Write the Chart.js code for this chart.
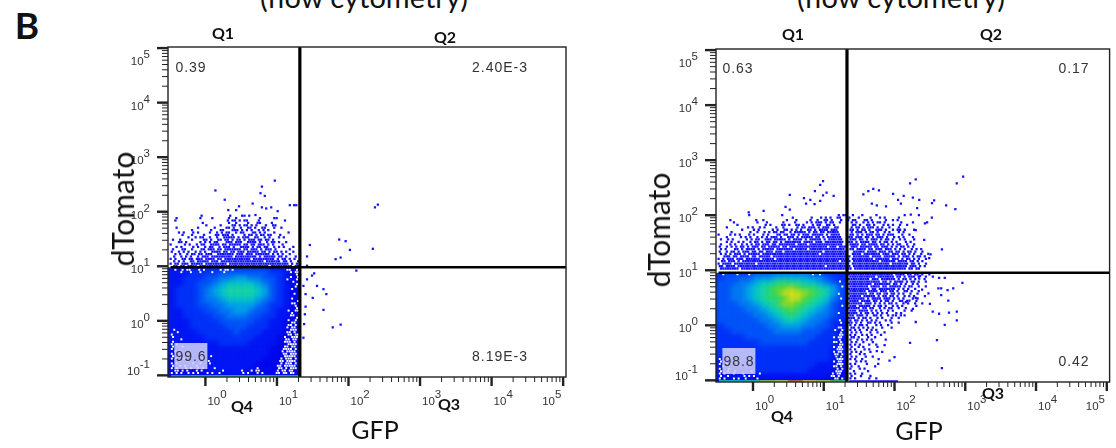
<!DOCTYPE html>
<html lang="en">
<head>
  <meta charset="UTF-8">
  <title>dTomato vs GFP flow cytometry</title>
  <script src="https://cdn.jsdelivr.net/npm/chart.js"></script>
  <style>
    html, body { margin: 0; background: #fff; width: 1116px; height: 448px; overflow: hidden; }
    canvas { position: absolute; top: 0; filter: blur(0.35px); }
    .lab { position: absolute; transform: translate(-50%, -50%); white-space: nowrap; font-family: Lato, sans-serif; color: #111; }
    .q { font-weight: 700; font-size: 16px; }
    .axis { font-size: 25px; }
    .rot { transform: translate(-50%, -50%) rotate(-90deg); font-size: 30px; }
    .title { font-size: 29px; }
    .gate { font-family: "Liberation Sans", sans-serif; font-size: 14px; color: #333; letter-spacing: 1px; }
    .tag { background: rgba(205, 205, 250, 0.88); padding: 5px 1px; }
  </style>
</head>
<body>
  <div class="lab" style="left:27px;top:24px;font-size:37px;font-weight:700">B</div>
  <div class="lab title" style="left:364px;top:-4px">(flow cytometry)</div>
  <div class="lab title" style="left:901px;top:-4px">(flow cytometry)</div>

  <canvas id="leftPlot" width="500" height="448" style="left:100px"></canvas>
  <canvas id="rightPlot" width="456" height="448" style="left:660px"></canvas>

  <div class="lab q" style="left:223px;top:32px">Q1</div>
  <div class="lab q" style="left:445px;top:36px">Q2</div>
  <div class="lab q" style="left:242px;top:405px">Q4</div>
  <div class="lab q" style="left:449px;top:403px">Q3</div>
  <div class="lab axis" style="left:375px;top:429px">GFP</div>
  <div class="lab rot" style="left:122px;top:209px">dTomato</div>
  <div class="lab gate" style="left:191px;top:67px">0.39</div>
  <div class="lab gate" style="left:500px;top:67px">2.40E-3</div>
  <div class="lab gate tag" style="left:191px;top:356px">99.6</div>
  <div class="lab gate" style="left:500px;top:356px">8.19E-3</div>

  <div class="lab q" style="left:793px;top:33px">Q1</div>
  <div class="lab q" style="left:991px;top:33px">Q2</div>
  <div class="lab q" style="left:782px;top:415px">Q4</div>
  <div class="lab q" style="left:993px;top:392px">Q3</div>
  <div class="lab axis" style="left:919px;top:430px">GFP</div>
  <div class="lab rot" style="left:658px;top:230px">dTomato</div>
  <div class="lab gate" style="left:738px;top:68px">0.63</div>
  <div class="lab gate" style="left:1074px;top:68px">0.17</div>
  <div class="lab gate tag" style="left:739px;top:361px">98.8</div>
  <div class="lab gate" style="left:1074px;top:361px">0.42</div>

  <script>
    // decades shown on both axes
    const xRange = [-0.486, 5.04];
    const yRange = [-1.03, 5.02];
    const xTickPowers = [0, 1, 2, 3, 4, 5];
    const yTickPowers = [-1, 0, 1, 2, 3, 4, 5];
    const leftGate = [20.9, 9.6];
    const rightGate = [21.3, 9.0];

    // density grid, read by eye. columns are log10 GFP, rows log10 dTomato, top row first
    const heatX = [-0.45, -0.35, -0.25, -0.15, -0.05, 0.05, 0.15, 0.25, 0.35, 0.45, 0.55, 0.65, 0.75, 0.85, 0.95, 1.05, 1.15, 1.25, 1.35];
    const heatY = [0.95, 0.85, 0.75, 0.65, 0.55, 0.45, 0.35, 0.25, 0.15, 0.05, -0.05, -0.15, -0.25, -0.35, -0.45, -0.55, -0.65, -0.75, -0.85, -0.95, -1.05];
    const leftHeat = [
      '1111122222222211100', '1112222333333322100', '1122233445544332100', '1122334566665432100',
      '1222345677776532100', '1222345677776532100', '1222344566665432100', '1222334455554322100',
      '1122233445543321100', '1122223344433221100', '1112222333332211000', '1112222233322211000',
      '1111222223222111000', '1111122222221110000', '1111111222211110000', '1111111111111100000',
      '0011111111111100000', '0011111111111000000', '0001111111110000000', '0000011111100000000',
      '0000000000000000000'
    ];
    const rightHeat = [
      '2222233333333322211', '2333344455555443222', '3334456678776654322', '3344567899a98876532',
      '334456789bcba987532', '3344567889bb9876432', '333445678aa98765322', '3333445678987654322',
      '3333344567876544322', '3333334456765443221', '2333333445554433211', '2233333344443332211',
      '2222333333333322211', '2222223333333222211', '2222222222222222111', '2222222222222222111',
      '1122222222222222111', '1122222222222211110', '1111122222222111100', '0111111111111111000',
      '0000000000000000000'
    ];

    // events piled on the bottom axis: log10 GFP and density level
    const leftPileX = [-0.48, -0.2, 0.1, 0.4, 0.7, 1.0, 1.3];
    const leftPileLevels = '5677765';
    const rightPileX = [-0.48, -0.3, -0.1, 0.1, 0.3, 0.5, 0.7, 0.9, 1.1, 1.3];
    const rightPileLevels = '778abdcb97';
    const rightPileTailX = [1.36, 1.5, 1.7, 1.9, 2.05];

    // single events outside the dense clouds, log10 GFP / log10 dTomato
    const leftEventsX = [.97, .79, .14, .77, .83, .27, .66, 1.18, 1.24, 1.27, .47, .79, .92, .85, .32, .43, 1.01, .70, 2.37, 2.41, 1.46, 1.87, 1.96, 2.02, 2.34, 1.82, 1.89, 1.42, 1.42, 2.11, 1.52, 1.49, 1.42, 1.37, 1.56, 1.65, 1.69, 1.40, 1.5, 1.65, 1.78, 1.89, 1.40, 1.37, 1.38, 1.39];
    const leftEventsY = [2.57, 2.46, 2.39, 2.34, 2.29, 2.22, 2.15, 2.12, 2.12, 2.12, 2.10, 2.08, 2.08, 2.06, 2.03, 2.03, 2.01, 1.94, 2.08, 2.13, 1.39, 1.49, 1.46, 1.30, 1.32, 1.13, 1.16, 1.18, 1.01, .92, .87, .83, .76, .64, .64, .58, .49, .49, .42, .2, -.12, -.07, .26, -.31, -.06, .12];
    const rightEventsX = [2.97, 2.88, 2.30, 2.22, .99, .95, 1.70, 1.63, 1.78, .875, 1.04, .99, .52, 1.14, 1.56, 1.98, 2.13, 2.26, 2.35, 2.56, 2.53, .72, .81, .95, .75, .87, 2.05, 2.09, 2.73, 2.86, .46, .52, -.06, .15, 1.68, 1.75, 1.88, 2.32, 2.23, 2.43, 2.3, 2.42, 2.67, 2.51, 2.49, 2.63, 2.71, 2.96, 2.62, 2.66, 2.75, 2.83, 2.76, 2.39, 2.48, 2.3, 2.43, 2.66, 2.5, 2.26, 2.54, 2.63, 2.88, 2.77, 2.88, 2.71, 2.3, 2.6, 2.22, 2.67, 2, 1.93, 1.77, 1.75, 1.86, 2.02, 2.09, 2.16, 2.21, 2.35, 2.36];
    const rightEventsY = [2.70, 2.58, 2.65, 2.58, 2.62, 2.55, 2.48, 2.44, 2.45, 2.44, 2.41, 2.36, 2.37, 2.35, 2.38, 2.39, 2.35, 2.32, 2.28, 2.27, 2.22, 2.31, 2.28, 2.26, 2.21, 2.2, 2.28, 2.21, 2.18, 2.11, 2.15, 2.10, 2.05, 2.08, 2.21, 2.18, 2.16, 2.13, 2.01, 1.85, 1.73, 1.55, 1.38, 1.29, 1.22, .86, .86, .77, .67, .67, .64, .67, .45, .65, .58, .5, .53, .55, .39, .3, .25, .21, .25, .23, .09, .01, .06, -.27, -.32, -.78, -.58, -.64, -.70, -.47, -.36, .18, .18, .42, .45, .85, .9];

    // cloud above the gate, # = one event, bins start at leftBandStart and go right and down
    const leftBandStart = [-0.486, 1.927];
    const leftBand = [
      '.............#...........#....##.#.....................',
      '..#.........#....#......#..#.........#.....##..........',
      '..#.....................#.##.#.##....#..........#......',
      '.............#..........#..#....#...##....#............',
      '...............#.....#....##.#.##.#.#...#..##..........',
      '..#........#......#....##.#..#..##.#..##...#..#........',
      '.........#.......#...##...###.#.#.#..#.#.#.............',
      '...#.#...#.#....#..#.#.##..#.##...##.#.#...#.....#.....',
      '.....#...#....#....##.###.#....#.##.#.##.##...#........',
      '.......#..#.##..#..#..#####.#.###..##..#.#...#.#.......',
      '.#..#....#....##.#..##.##.#.##.#.###.##.##.#...........',
      '...##.#.....#.#.#.##...###.###..####.#..#.##.#..#......',
      '#.....#.#..#.##..####.##.#####.##.##.###.#.#...#.......',
      '..#.#....#.#..#.##..#.###.#..####.#.##.##..#.#.#...#...',
      '.#...##..#...##.###.##.#######.##.###.#.###.#.....#....',
      '#..#.#.#..#.#.#..####.##.##.###.#####.##.#.##.#.#..#...',
      '..#.#..#.##.##.###..#######.###.###.######.#.#.#..#....',
      '.#..#.#.#..#.###.#########.#########.#.#####.##.#...#..',
      '#.#..##.##.###.####.##.###########.#########.#.##.#.#..',
      '.#.#.#..##.#####.###.##################.######.##.#..#.',
      '#.##.###.#####.#########.#########################.#.#.',
      '.##.##.####.#############################.#########.##.'
    ];
    const rightBandStart = [-0.486, 2.0];
    const rightBand = [
      '.............#.............#.......................#.##..#...#.....#...........#.....#...........',
      '...............................#.......#...#.#.#..##...#...#....#...#.#.....#.............#.......',
      '.....#..........#..#.........#...#.....#..#..##.#...#..#.##...##.#.....#..#.#.............',
      '......#.........#...#......#....#....#.#.###.#.##..#....#.#..#.#.#.##.#......#....#.....#...',
      '........#...........#.#....##.#..##.#...#.##..##.#.......##.#..##.#...#.#.#..#..#.........',
      '...#........#.#..#.#....#..#.....#.##.###.#.###..##.....#.##.#.###.#.#..#...#..........',
      '..........#....#.#.....#.#..##.#.#.#..##.#.####.###.....##.#.##.#..###.#..#.##.#...#.....',
      '.....#.......#..#..#.#.##.##..#.#####.#.##.##.#####.....#.###.#.##.#..#.#...#.#..........',
      '#....#.#.#...#.#...#.#...##.##.##.#.###.#####.#.####....##.#.#.###.##.#.###...#..#.........',
      '...#.....#.#.#..#.#.#.###.#..###.#.#####.##.#.######...##.###.##.#.###.#..#.#.#...#........',
      '.#..#.#.....#.#.##..###.#####.#.####.#.#####.#.######...###.##.#.###.#.##.#..#.#...#......',
      '...#.#..#.#..#.##.#.##.##.#.#######.####.###.########..##.#.####.##.#.##.#.#...#.#.......',
      '.#...#.#..#.#.#.##.###.##.#######.####.##############...####.##.####.##.#.#.##..#..#.......',
      '#..#.#.#.##.#.###.##.#####.##.################.###.###..###.#####.##.###.#.#.##.#.#........',
      '.#.#...##.#.####.#.#####.#######.#####.###############..##.####.##.###.###.#.#.#..#.#.#.....',
      '#..#.##.#.###.##.##.###.###.################.##########..#####.####.###.##.##.#.##.#..#......',
      '.#.#.#.###.#.#####.########################.###########..####.#######.###.###.##.#.#..#..#...',
      '..###.##.####.##.#####.#################################.#######.####.#####.#.###.#.##.#.....',
      '#.#.###.###.######.#####.###############################.#########.######.###.#.##.#.#..#....',
      '.##.###.#.#########################################.####.###########.######.####.##.#.#.......',
      '#.####.#########.#######################################.################.#######.##.#..#.....',
      '##.####.#####################################.##########.#######################.###.#.#......',
      '.########.###############################################.######################.##.##........'
    ];

    // blue cloud right of the GFP gate on the second sample
    const rightQ3Start = [1.36, 0.927];
    const rightQ3 = [
      '###################.####.##.##.#..#....',
      '###########.#######.##.#.###.#..#..#...',
      '#########.###.######.#.##.#.#...#......',
      '#############.##.#.####.#.##.#..#......',
      '##########.#######.##.#.#..#.#.........',
      '########.####.##.#####.#.##..#..#......',
      '#########.##.#######.#.#.#..#..........',
      '#######.####.###.##.#..##.#..#.........',
      '########.##.##.##.##.#.#..#..#.........',
      '#####.#####.#.##.##.#..#.#.#...........',
      '#######.#.####.###.#.#.#...#.#.........',
      '####.####.##.#.##.#..##.#...#..........',
      '######.###.#.#.#.##.#..#.#..#..#.......',
      '###.#####.#.##.#..#.#.#.....#..........',
      '#####.##.##..#.#.##..#..#..............',
      '###.####.#.#.#..#.#....#..#............',
      '####.#.##.#.#.#.#...#.#................',
      '##.###.#..##.#..#.#....#...............',
      '###.#.##.#..#.#...#..#.................',
      '#.##.#.#.#.#...#.#.....................',
      '##.#.#..##.#.#....#..#.................',
      '#.#.##.#...#.#..#......................',
      '.##.#.#.#.#...#...#....................',
      '#.#.#..#.#.#...........................',
      '.#.#.#...#..#..#.......................',
      '#.#..#.#.#...#.........................',
      '.##.#...#..#...........................',
      '#..#.#.#.#.....#.......................',
      '.#.#..#...#............................',
      '#.#.#...#..#...........................',
      '.#..#.#.....#..........................',
      '#.#...#.#..............................',
      '.#.#.#...#....#........................',
      '#...#.#................................',
      '.#.#...#..#............................',
      '#.#..#......#..........................',
      '...#.#.#...............................',
      '#.#....#...............................',
      '.#..#......#...........................',
      '#...#.#................................',
      '..#.....#..............................',
      '#.#..#.................................',
      '.#...#...#.............................',
      '#.#.....#..#...........................'
    ];

    // white gaps in the density plot where there are too few events to fill the bin
    const leftGapsStart = [-0.486, 0.936];
    const leftGaps = [
      '..#..#.##...#.#......#.##.#......................##..#.',
      '....#...#...#....#....#...........................#.##',
      '.....................................................#',
      '..................................................#..#',
      '.................................................#...#',
      '...................................................#.',
      '.....................................................#',
      '....................................................#',
      '...................................................#.',
      '.....................................................',
      '....................................................#',
      '.....................................................',
      '...................................................#.',
      '.....................................................#',
      '...................................................##',
      '....................................................#',
      '.....................................................#',
      '.................................................#..##',
      '...................................................#.',
      '..................................................##.',
      '.....................................................#',
      '.................................................#..#',
      '...................................................##',
      '.................................................##.#',
      '.................................................#.##',
      '.#................................................###',
      '...#.............................................##.#',
      '#................................................##.##',
      '.#..............................................#..###',
      '....#...........................................##.##',
      '.#..............................................###.#',
      '#.#..............................................####',
      '.#...#..........................................##.##',
      '#..............................................####.#',
      '..#.#..........................................#.####',
      '#.....#........................................##.###',
      '.#.#.............#..............................#####',
      '#.#..#.......#................................#.###.#',
      '....#..#........#.............................##.####',
      '#.#......#..#...#.............................#.###.#',
      '.#..#.#....#.................................##.#####',
      '#.#...#.#..#.#....#.................#........##.#.###',
      '..##.#.#...#.#........#.......#...#.##.......#.##.##',
      '#.#.#..#.#.#...#.#..#.........#.#...#.#.....##.##.##'
    ];
    const rightGapsStart = [-0.486, 0.927];
    const rightGaps = [
      '..#.....#....#..........................#..#.........',
      '.....................................................',
      '.....................................................',
      '...................................................#.',
      '.....................................................',
      '....................................................#',
      '.....................................................',
      '.....................................................',
      '...................................................#.',
      '.....................................................',
      '....................................................#',
      '.....................................................',
      '.....................................................',
      '....................................................#',
      '.....................................................',
      '.....................................................',
      '...................................................#.',
      '.....................................................',
      '.....................................................',
      '...................................................#.',
      '....................................................#',
      '.....................................................',
      '...................................................##',
      '.................................................#..#',
      '....................................................#',
      '...................................................##',
      '.................................................#.##',
      '...................................................#',
      '.................................................##.#',
      '...................................................##',
      '.................................................#.##',
      '..................................................###',
      '.................................................#.##',
      '.................................................##.#',
      '..................................................#.#',
      '#.................................................###',
      '.#...............................................#.##',
      '#..#..............................................###',
      '..#..............................................##.#',
      '#...#.............................................#.#',
      '.#..#..#......#...................................###',
      '#.#...#...#......#..............................#.##',
      '.#..#......#.#.#................................##.#',
      '#.#...#.#..#....#................................##.#'
    ];

    const heatColors = {
      0: '#0008ee', 1: '#0018f4', 2: '#0034f8', 3: '#0058f8', 4: '#0080f2', 5: '#00a8e8', 6: '#08ccc8',
      7: '#18dca4', 8: '#2ce070', 9: '#58e034', a: '#98e420', b: '#cce818', c: '#ece414', d: '#e07818'
    };

    // turn a bitmap of events into scatter points in data units, odd rows sit half a bin over
    const binStep = [0.0333, 0.044];
    function rowsToEvents(rows, start) {
      const events = [];
      rows.forEach((row, r) => {
        [...row].forEach((c, i) => {
          if (c === '#') events.push({ x: 10 ** (start[0] + (i + (r % 2) / 2) * binStep[0]), y: 10 ** (start[1] - r * binStep[1]) });
        });
      });
      return events;
    }

    function heatPoints(rows) {
      const cells = [];
      rows.forEach((row, r) => {
        [...row].forEach((c, i) => cells.push({ x: 10 ** heatX[i], y: 10 ** heatY[r], c }));
      });
      return cells;
    }

    function minorTicks(powers) {
      const ticks = [];
      for (const p of [-2, ...powers]) {
        for (const m of [2, 3, 4, 5, 6, 7, 8, 9]) ticks.push({ value: m * 10 ** p, major: false });
      }
      return ticks;
    }

    // FlowJo style axes: long major ticks, raised exponents, blurred density under the gate
    const flowAxes = {
      id: 'flowAxes',
      beforeDatasetDraw(chart, args) {
        const ds = chart.data.datasets[args.index];
        if (!ds.heat) return;
        const { ctx, scales: { x, y }, chartArea: a } = chart;
        const gx = x.getPixelForValue(ds.gate[0]);
        const gy = y.getPixelForValue(ds.gate[1]);
        ctx.save();
        ctx.beginPath();
        ctx.rect(a.left, gy, gx - a.left, a.bottom - gy);
        ctx.clip();
        ctx.fillStyle = heatColors[1];
        ctx.fillRect(a.left, gy, gx - a.left, a.bottom - gy);
        ctx.filter = 'blur(2.6px)';
      },
      afterDatasetDraw(chart, args) {
        if (chart.data.datasets[args.index].heat) chart.ctx.restore();
      },
      afterDraw(chart) {
        const { ctx, scales: { x, y }, chartArea: a } = chart;
        ctx.save();
        ctx.strokeStyle = '#222';
        ctx.lineWidth = 1.4;
        ctx.strokeRect(a.left, a.top, a.right - a.left, a.bottom - a.top);
        for (const t of x.ticks) {
          const px = x.getPixelForValue(t.value);
          if (px < a.left) continue;
          ctx.lineWidth = t.major ? 2.4 : 1;
          ctx.beginPath();
          ctx.moveTo(px, a.bottom);
          ctx.lineTo(px, a.bottom + (t.major ? 9 : 5));
          ctx.stroke();
        }
        for (const t of y.ticks) {
          const py = y.getPixelForValue(t.value);
          if (py < a.top) continue;
          ctx.lineWidth = t.major ? 2.4 : 1;
          ctx.beginPath();
          ctx.moveTo(a.left, py);
          ctx.lineTo(a.left - (t.major ? 11 : 6), py);
          ctx.stroke();
        }
        ctx.fillStyle = '#333';
        const label = (power, px, base, alignRight) => {
          ctx.font = '11.5px "Liberation Sans", sans-serif';
          const exp = String(power);
          const w = ctx.measureText('10').width + ctx.measureText(exp).width;
          const left = alignRight ? px - w : px;
          ctx.fillText('10', left, base);
          ctx.fillText(exp, left + ctx.measureText('10').width, base - 7);
        };
        xTickPowers.forEach(p => {
          const px = x.getPixelForValue(10 ** p);
          label(p, p === 5 ? px - 21 : px + 2, a.bottom + 28, false);
        });
        yTickPowers.forEach(p => {
          const py = y.getPixelForValue(10 ** p);
          label(p, a.left - 18, py + (p === 5 ? 17 : p === -1 ? 0 : 7), true);
        });
        ctx.restore();
      }
    };

    function flowPlot(id, padding, gate, heat, band, bandStart, gaps, gapsStart, eventsX, eventsY, pileX, pileLevels, extra) {
      const dots = rowsToEvents(band, bandStart).concat(eventsX.map((v, i) => ({ x: 10 ** v, y: 10 ** eventsY[i] })));
      if (extra) dots.push(...rowsToEvents(extra.rows, extra.start));
      const pileY = 10 ** (yRange[0] + 0.015);
      const heatCells = heatPoints(heat);
      const datasets = [
        // chart.js draws the first dataset last, so gates come first
        { data: [{ x: gate[0], y: 10 ** yRange[0] }, { x: gate[0], y: 10 ** yRange[1] }], showLine: true, borderColor: '#000', borderWidth: 3.2, pointRadius: 0 },
        { data: [{ x: 10 ** xRange[0], y: gate[1] }, { x: 10 ** xRange[1], y: gate[1] }], showLine: true, borderColor: '#000', borderWidth: 2.6, pointRadius: 0 },
        { data: dots, pointStyle: 'rect', pointRadius: 1.6, pointBorderWidth: 0, pointBackgroundColor: '#1212ff' },
        { data: pileX.map(v => ({ x: 10 ** v, y: pileY })), showLine: true, pointRadius: 0, borderWidth: 2,
          segment: { borderColor: c => heatColors[pileLevels[c.p0DataIndex]] } },
        { data: rowsToEvents(gaps, gapsStart), pointStyle: 'rect', pointRadius: 1.4, pointBorderWidth: 0, pointBackgroundColor: '#fff' },
        { data: heatCells, heat: true, gate, pointStyle: 'rect', pointRadius: 6.4, pointBorderWidth: 0,
          pointBackgroundColor: heatCells.map(c => heatColors[c.c]) }
      ];
      if (extra) datasets.splice(2, 0, { data: extra.tail.map(v => ({ x: 10 ** v, y: pileY })), showLine: true, pointRadius: 0, borderWidth: 2, borderColor: '#1212ff' });
      new Chart(document.getElementById(id), {
        type: 'scatter',
        data: { datasets },
        plugins: [flowAxes],
        options: {
          responsive: false,
          animation: false,
          events: [],
          layout: { padding },
          plugins: { legend: { display: false }, tooltip: { enabled: false } },
          scales: {
            x: {
              type: 'logarithmic', min: 10 ** xRange[0], max: 10 ** xRange[1],
              grid: { display: false }, border: { display: false }, ticks: { display: false },
              afterBuildTicks: s => { s.ticks = minorTicks(xTickPowers).concat(xTickPowers.map(p => ({ value: 10 ** p, major: true }))).filter(t => t.value <= s.max); },
              afterFit: s => { s.height = 0; }
            },
            y: {
              type: 'logarithmic', min: 10 ** yRange[0], max: 10 ** yRange[1],
              grid: { display: false }, border: { display: false }, ticks: { display: false },
              afterBuildTicks: s => { s.ticks = minorTicks(yTickPowers).concat(yTickPowers.map(p => ({ value: 10 ** p, major: true }))).filter(t => t.value <= s.max && t.value >= s.min); },
              afterFit: s => { s.width = 0; }
            }
          }
        }
      });
    }

    flowPlot('leftPlot', { left: 68, top: 47, right: 34, bottom: 71 }, leftGate, leftHeat, leftBand, leftBandStart, leftGaps, leftGapsStart, leftEventsX, leftEventsY, leftPileX, leftPileLevels);
    flowPlot('rightPlot', { left: 56, top: 49, right: 2, bottom: 66 }, rightGate, rightHeat, rightBand, rightBandStart, rightGaps, rightGapsStart, rightEventsX, rightEventsY, rightPileX, rightPileLevels, { rows: rightQ3, start: rightQ3Start, tail: rightPileTailX });
  </script>
</body>
</html>
